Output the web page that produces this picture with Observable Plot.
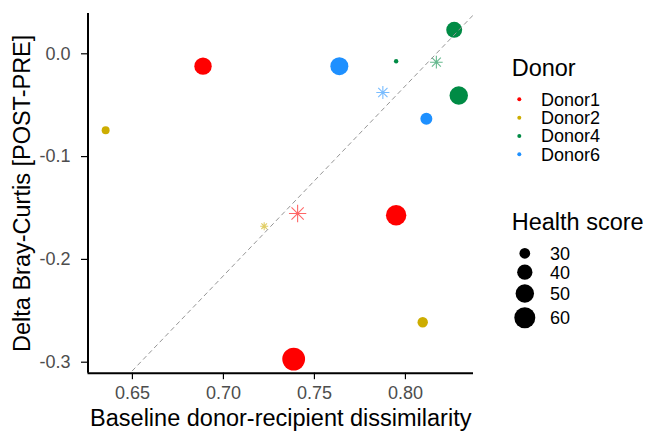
<!DOCTYPE html>
<html>
<head>
<meta charset="utf-8">
<script src="https://cdn.jsdelivr.net/npm/d3@7"></script>
<script src="https://cdn.jsdelivr.net/npm/@observablehq/plot@0.6"></script>
<style>
html, body { margin: 0; padding: 0; background: #fff; }
#wrap { position: relative; width: 655px; height: 432px; font-family: "Liberation Sans", Arial, sans-serif; }
</style>
</head>
<body>
<div id="wrap"></div>
<script>
// ---- data ----
const donor    = ["Donor1", "Donor1", "Donor1", "Donor2", "Donor2", "Donor4", "Donor4", "Donor4", "Donor6", "Donor6"];
const baseline = [0.6888, 0.7386, 0.7949, 0.6353, 0.8095, 0.7949, 0.8268, 0.8293, 0.7637, 0.8115];
const delta    = [-0.012, -0.297, -0.157, -0.0743, -0.2611, -0.0072, 0.0233, -0.0406, -0.012, -0.0632];
const health   = [46.5, 68, 57.5, 26.6, 29.6, 25, 42, 50, 48.5, 32.3];

const donorLevels = ["Donor1", "Donor2", "Donor4", "Donor6"];
const donorColors = ["#FF0000", "#CDAD00", "#008B45", "#1E90FF"];
const healthBreaks = [30, 40, 50, 60];
const xTicks = [0.65, 0.70, 0.75, 0.80];
const yTicks = [0, -0.1, -0.2, -0.3];

const xTitle = "Baseline donor-recipient dissimilarity";
const yTitle = "Delta Bray-Curtis [POST-PRE]";

// ---- derived ----
const FONT = '"Liberation Sans", Arial, sans-serif';
const TITLE_SIZE = 23.5, TEXT_SIZE = 18;
const healthFloor = 25;
const rDomain = [0, Math.sqrt(35)];
const rRange = [2.2, 10.5];
const rOf = h => Math.sqrt(Math.max(0, h - healthFloor));

const points = donor.map((d, i) => ({donor: d, x: baseline[i], y: delta[i], health: health[i]}));
const means = d3.rollups(points, v => ({
  x: d3.mean(v, d => d.x), y: d3.mean(v, d => d.y), health: d3.mean(v, d => d.health)
}), d => d.donor).map(([donor, m]) => ({donor, ...m}));

const mx = d3.mean(means, d => d.x), my = d3.mean(means, d => d.y);
const slope = d3.sum(means, d => (d.x - mx) * (d.y - my)) / d3.sum(means, d => (d.x - mx) ** 2);
const intercept = my - slope * mx;

const xDomain = [0.6256, 0.8374];
const yDomain = [-0.3107, 0.0392];
const fitLine = xDomain.map(x => ({x, y: intercept + slope * x}));

const asterisk = {
  draw(ctx, size) {
    const a = Math.sqrt(size / Math.PI) * 0.85;
    for (const ang of [0, 45, 90, 135]) {
      const t = ang * Math.PI / 180, c = Math.cos(t) * a, s = Math.sin(t) * a;
      ctx.moveTo(-c, -s); ctx.lineTo(c, s);
    }
  }
};

const chart = Plot.plot({
  width: 655, height: 432,
  marginLeft: 87.5, marginRight: 182, marginTop: 13, marginBottom: 59.3,
  style: {fontFamily: FONT, fontSize: TEXT_SIZE + "px", background: "white", color: "black", overflow: "visible"},
  x: {domain: xDomain},
  y: {domain: yDomain},
  color: {domain: donorLevels, range: donorColors},
  r: {type: "linear", domain: rDomain, range: rRange},
  marks: [
    Plot.axisX({ticks: xTicks, tickFormat: () => "", tickSize: 6.5, stroke: "black", strokeWidth: 1.2, label: null}),
    Plot.axisY({ticks: yTicks, tickFormat: () => "", tickSize: 6.5, stroke: "black", strokeWidth: 1.2, label: null}),
    Plot.text(xTicks, {x: d => d, frameAnchor: "bottom", dy: 20, lineAnchor: "middle", textAnchor: "middle",
      text: d => d.toFixed(2), fill: "#4D4D4D", fontSize: TEXT_SIZE}),
    Plot.text(yTicks, {y: d => d, frameAnchor: "left", dx: -17.5, lineAnchor: "middle", textAnchor: "end",
      text: d => d.toFixed(1), fill: "#4D4D4D", fontSize: TEXT_SIZE}),
    Plot.ruleX([xDomain[0]], {stroke: "black", strokeWidth: 2}),
    Plot.ruleY([yDomain[0]], {stroke: "black", strokeWidth: 2}),
    Plot.dot(points, {x: "x", y: "y", r: d => rOf(d.health), fill: "donor"}),
    Plot.dot(means, {x: "x", y: "y", r: d => rOf(d.health), symbol: asterisk,
      stroke: "donor", strokeOpacity: 0.6, fill: "none", strokeWidth: 1.1}),
    Plot.line(fitLine, {x: "x", y: "y", stroke: "#959595", strokeDasharray: "4,4", strokeWidth: 1, clip: true}),
    Plot.text([xTitle], {frameAnchor: "bottom", dy: 45.5, lineAnchor: "middle", textAnchor: "middle",
      fontSize: TITLE_SIZE, fill: "black"}),
    Plot.text([yTitle], {frameAnchor: "left", dx: -65.5, rotate: -90, lineAnchor: "middle", textAnchor: "middle",
      fontSize: TITLE_SIZE, fill: "black"})
  ]
});
document.getElementById("wrap").appendChild(chart);

// ---- legends ----
const svg = d3.select("#wrap").append("svg")
  .attr("width", 655).attr("height", 432)
  .style("position", "absolute").style("left", "0px").style("top", "0px")
  .style("font-family", FONT);

svg.append("text").attr("x", 511.7).attr("y", 76).attr("font-size", TITLE_SIZE).attr("fill", "black").text("Donor");
donorLevels.forEach((d, i) => {
  const cy = 99.3 + i * 18.35;
  svg.append("circle").attr("cx", 519.3).attr("cy", cy).attr("r", 2).attr("fill", donorColors[i]);
  svg.append("text").attr("x", 541).attr("y", cy).attr("dy", "0.36em").attr("font-size", TEXT_SIZE).attr("fill", "black").text(d);
});

svg.append("text").attr("x", 511.7).attr("y", 230).attr("font-size", TITLE_SIZE).attr("fill", "black").text("Health score");
const rScale = d3.scaleLinear(rDomain, rRange);
const keyH = healthBreaks.map(h => Math.max(18, 2 * rScale(rOf(h)) + 4.5));
let cy = 253.3;
healthBreaks.forEach((h, i) => {
  if (i > 0) cy += (keyH[i - 1] + keyH[i]) / 2;
  svg.append("circle").attr("cx", 524.8).attr("cy", cy).attr("r", rScale(rOf(h))).attr("fill", "black");
  svg.append("text").attr("x", 550).attr("y", cy).attr("dy", "0.36em").attr("font-size", TEXT_SIZE).attr("fill", "black").text(h);
});
</script>
</body>
</html>
